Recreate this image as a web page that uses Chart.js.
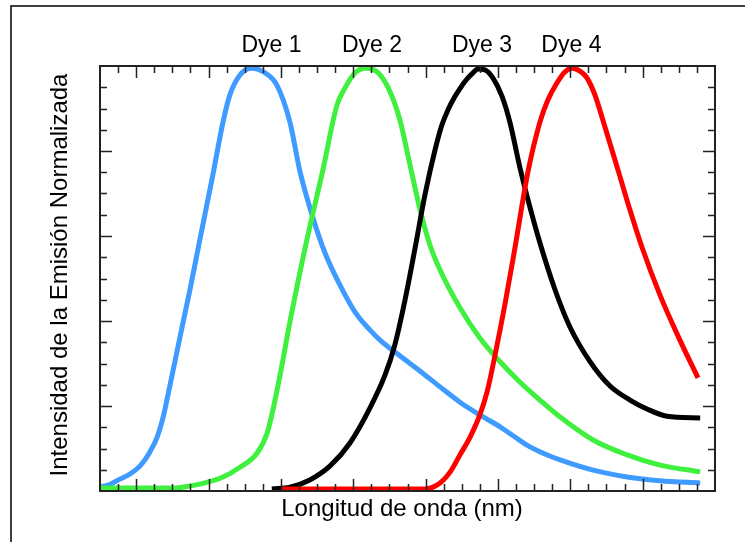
<!DOCTYPE html>
<html><head><meta charset="utf-8">
<script src="https://cdn.jsdelivr.net/npm/chart.js@4"></script>
<style>html,body{margin:0;padding:0;background:#fff;}#wrap{width:745px;height:542px;position:relative;}</style>
</head><body><div id="wrap"><canvas id="c" width="745" height="542"></canvas></div>
<script>
// Wavelength (nm) and normalized emission for each dye
const dye1X = [450.0,452.8,455.5,458.3,461.1,463.8,465.8,467.4,468.5,472.1,474.9,477.6,481.2,484.0,485.9,488.7,492.0,495.6,498.9,502.5,505.3,508.9,512.2,516.3,520.5,524.6,527.4,532.9,538.5,544.0,549.5,555.0,560.6,564.7,568.0,573.0,577.2,586.3,595.7,604.8,615.9];
const dye1Y = [0.009,0.016,0.028,0.040,0.059,0.092,0.127,0.172,0.214,0.362,0.475,0.591,0.744,0.868,0.932,0.979,0.995,0.984,0.955,0.868,0.751,0.642,0.560,0.485,0.421,0.379,0.355,0.318,0.282,0.245,0.209,0.179,0.151,0.127,0.108,0.087,0.073,0.049,0.033,0.024,0.019];

const dye2X = [450.0,462.0,470.2,474.9,479.0,484.0,488.7,493.4,496.2,497.8,500.3,502.5,506.7,511.6,515.5,517.7,520.5,523.5,526.9,530.2,532.9,535.7,538.5,541.2,544.0,549.5,555.0,560.6,566.1,571.6,577.2,586.3,595.7,604.8,615.9];
const dye2Y = [0.007,0.007,0.007,0.012,0.019,0.033,0.056,0.089,0.136,0.191,0.296,0.398,0.572,0.755,0.908,0.948,0.984,0.995,0.984,0.939,0.873,0.767,0.661,0.579,0.520,0.431,0.360,0.304,0.256,0.214,0.174,0.120,0.085,0.061,0.045];

const dye3X = [497.5,502.5,508.0,513.6,519.1,524.6,528.8,531.5,534.3,537.1,539.8,542.6,544.5,546.2,548.1,549.5,551.2,553.1,554.5,556.4,558.6,561.1,563.3,566.1,568.9,571.6,575.8,579.9,585.5,591.0,596.5,601.2,606.7,615.9];
const dye3Y = [0.005,0.009,0.026,0.059,0.113,0.195,0.273,0.344,0.449,0.572,0.696,0.802,0.861,0.897,0.928,0.947,0.967,0.984,0.993,0.991,0.972,0.929,0.868,0.760,0.666,0.584,0.473,0.386,0.304,0.247,0.214,0.193,0.176,0.172];

const dye4X = [500.0,525.0,539.8,544.0,546.8,549.5,552.3,555.0,557.0,559.2,562.0,564.7,568.3,571.6,573.8,576.3,578.5,580.5,582.7,584.6,586.8,589.0,593.2,596.5,599.8,604.8,610.3,615.3];
const dye4Y = [0.005,0.005,0.005,0.019,0.045,0.085,0.127,0.179,0.233,0.320,0.442,0.572,0.751,0.868,0.920,0.960,0.986,0.995,0.988,0.972,0.932,0.873,0.755,0.661,0.574,0.461,0.355,0.266];

const dyeNames = ['Dye 1','Dye 2','Dye 3','Dye 4'];
const dyeLabelX = [497.4,525.2,555.6,580.3];
const xTitle = 'Longitud de onda (nm)';
const yTitle = 'Intensidad de la Emisión Normalizada';

function pts(xs, ys){ return xs.map((x,i)=>({x:x,y:ys[i]})); }

const deco = {
  id:'deco',
  afterDraw(chart){
    const ctx = chart.ctx, a = chart.chartArea, xs = chart.scales.x, ys = chart.scales.y;
    ctx.save();
    ctx.strokeStyle = '#000'; ctx.lineWidth = 1.5;
    ctx.beginPath(); ctx.moveTo(11, 560); ctx.lineTo(11, 6); ctx.lineTo(760, 6); ctx.stroke();
    ctx.strokeStyle = '#222'; ctx.lineWidth = 1.5;
    ctx.beginPath();
    for (let v = 455; v < 620; v += 5) {
      const px = Math.round(xs.getPixelForValue(v)) + 0.5;
      const len = ((v - 460) % 20 === 0) ? 12 : 7;
      ctx.moveTo(px, a.bottom); ctx.lineTo(px, a.bottom - len);
      ctx.moveTo(px, a.top); ctx.lineTo(px, a.top + len);
    }
    for (let k = 1; k < 20; k++) {
      const v = k * 0.05;
      const py = Math.round(ys.getPixelForValue(v)) + 0.5;
      const len = (k % 4 === 0) ? 12 : 7;
      ctx.moveTo(a.left, py); ctx.lineTo(a.left + len, py);
      ctx.moveTo(a.right, py); ctx.lineTo(a.right - len, py);
    }
    ctx.stroke();
    ctx.lineWidth = 2; ctx.strokeStyle = '#222';
    ctx.strokeRect(a.left, a.top, a.right - a.left, a.bottom - a.top);
    ctx.fillStyle = '#000'; ctx.textAlign = 'center'; ctx.textBaseline = 'alphabetic';
    ctx.font = '23px "Liberation Sans", Arial, sans-serif';
    dyeNames.forEach((n,i)=>{ ctx.fillText(n, xs.getPixelForValue(dyeLabelX[i]), 52); });
    ctx.font = '24px "Liberation Sans", Arial, sans-serif';
    ctx.fillText(xTitle, 402, 516);
    ctx.translate(67, 275); ctx.rotate(-Math.PI/2);
    ctx.fillText(yTitle, 0, 0);
    ctx.restore();
  }
};

const common = {pointRadius:0, borderWidth:5, fill:false, cubicInterpolationMode:'monotone', borderCapStyle:'butt', borderJoinStyle:'round'};
new Chart(document.getElementById('c'), {
  type:'line',
  data:{ datasets:[
    Object.assign({label:dyeNames[0], data:pts(dye1X,dye1Y), borderColor:'#3f9bff', order:4}, common),
    Object.assign({label:dyeNames[1], data:pts(dye2X,dye2Y), borderColor:'#3ff03f', order:3}, common),
    Object.assign({label:dyeNames[2], data:pts(dye3X,dye3Y), borderColor:'#000000', order:2}, common),
    Object.assign({label:dyeNames[3], data:pts(dye4X,dye4Y), borderColor:'#ff0000', order:1}, common)
  ]},
  options:{
    responsive:false, animation:false, events:[],
    layout:{padding:{left:100, top:66, right:30, bottom:51}},
    plugins:{legend:{display:false}, tooltip:{enabled:false}},
    scales:{
      x:{type:'linear', min:450, max:620, display:false},
      y:{type:'linear', min:0, max:1, display:false}
    }
  },
  plugins:[deco]
});
</script></body></html>
